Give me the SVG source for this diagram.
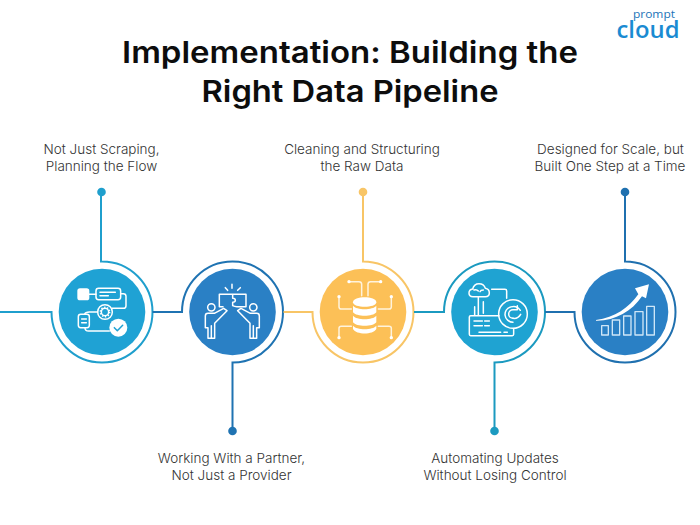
<svg xmlns="http://www.w3.org/2000/svg" width="700" height="525" viewBox="0 0 700 525">
<style>
.title{font-family:"Inter","Liberation Sans",sans-serif;font-weight:600;font-size:30px;fill:#0d0d0d;text-anchor:middle}
.label{font-family:"Inter","Liberation Sans",sans-serif;font-weight:300;font-size:13.500px;fill:#333;text-anchor:middle}
.con{fill:none;stroke-width:2}
.ic{fill:none;stroke:#fff;stroke-width:4.500;stroke-linecap:round;stroke-linejoin:round}
.w{fill:#fff;stroke:none}
.b1{stroke:#1f9fcd}.b2{stroke:#1f73b2}.y{stroke:#f8c566}.b3{stroke:#1b9ac0}.b4{stroke:#1f70af}
</style>
<rect width="700" height="525" fill="#fff"/>
<g id="logo">
<text x="654" y="18" font-family="'Open Sans','Liberation Sans',sans-serif" font-size="10.500" fill="#1b74b8" text-anchor="middle" textLength="42" lengthAdjust="spacingAndGlyphs">prompt</text>
<text x="648" y="38" font-family="'Open Sans','Liberation Sans',sans-serif" font-weight="600" font-size="23" fill="#1a8bd2" text-anchor="middle" textLength="63" lengthAdjust="spacingAndGlyphs">cloud</text>
</g>
<g id="title">
<text class="title" x="350" y="63" textLength="456" lengthAdjust="spacingAndGlyphs">Implementation: Building the</text>
<text class="title" x="350" y="102" textLength="297" lengthAdjust="spacingAndGlyphs">Right Data Pipeline</text>
</g>
<g id="connectors">
<path class="con b1" d="M0 312H51.500A50.500 50.500 0 1 0 102 261.500H101V192"/>
<path class="con b2" d="M152.500 312H182A50.500 50.500 0 1 1 232.500 362.500V431"/>
<path class="con y" d="M283.500 312H312.500A50.500 50.500 0 1 0 363 261.500V192"/>
<path class="con b3" d="M414 312H444A50.500 50.500 0 1 1 494.500 362.500V431"/>
<path class="con b4" d="M545 312H574.500A50.500 50.500 0 1 0 625 261.500V192"/>
<circle cx="101.500" cy="192" r="4.300" fill="#1f9fcd"/>
<circle cx="232.500" cy="431" r="4.300" fill="#1f73b2"/>
<circle cx="363" cy="192" r="4.300" fill="#f8c566"/>
<circle cx="494.500" cy="431" r="4.300" fill="#1b9ac0"/>
<circle cx="625" cy="192" r="4.300" fill="#1f70af"/>
</g>
<g id="node1">
<circle cx="102" cy="312" r="43.300" fill="#1fa2d4"/>
<g transform="translate(50 265) scale(.3333)" class="ic">
<rect class="w" x="82" y="70" width="36" height="36" rx="8"/>
<rect x="138" y="70" width="74" height="34" rx="8"/>
<path d="M150 82H196M150 92H175M118 88H138M212 86H220Q228 86 228 94V122Q228 130 220 130H186"/>
<circle cx="165" cy="141" r="22"/><circle cx="165" cy="141" r="11"/><circle cx="165" cy="141" r="14" stroke-dasharray="4 4.800" stroke-linecap="butt"/>
<rect x="85" y="148" width="33" height="40" rx="7"/>
<path d="M95 162H109M95 173H109M143 141H118Q106 141 104 148M105 188Q105 198 116 198H178"/>
<circle class="w" cx="205" cy="188" r="27"/>
<path d="M193 188L202 197L218 181" stroke="#1fa2d4"/>
</g>
<text class="label" x="101.500" y="154">Not Just Scraping,</text>
<text class="label" x="101.500" y="171">Planning the Flow</text>
</g>
<g id="node2">
<circle cx="232.500" cy="312" r="43.300" fill="#2a80c5"/>
<g transform="translate(182 265) scale(.3333)" class="ic">
<path d="M130 68L137 76M150 58V70M175 68L167 76"/>
<path d="M123 125H112V88H192V125H165Q158 125 152 122V112Q160 112 160 106Q160 100 152 100V88"/>
<circle cx="88" cy="127" r="11"/><circle cx="214" cy="127" r="11"/>
<path d="M125 130L97 145H78Q70 145 70 153V188H78V220H98V175L135 137Z"/>
<path d="M88 182V220"/>
<path d="M177 130L205 145H224Q232 145 232 153V188H224V220H204V175L167 137Z"/>
<path d="M214 182V220"/>
</g>
<text class="label" x="231.500" y="463">Working With a Partner,</text>
<text class="label" x="231.500" y="480">Not Just a Provider</text>
</g>
<g id="node3">
<circle cx="363" cy="312" r="43.300" fill="#fcc057"/>
<g transform="translate(313 265) scale(.3333)" class="ic" style="stroke:#fff3dc">
<path d="M108 50H138Q146 50 146 58V92M203 50H173Q165 50 165 58V92M78 95V125Q78 132 85 132H115M235 95V125Q235 132 228 132H196M78 218V190Q78 184 85 184H115M235 218V190Q235 184 228 184H196"/>
<circle class="w" cx="108" cy="50" r="5"/><circle class="w" cx="203" cy="50" r="5"/><circle class="w" cx="78" cy="95" r="5"/><circle class="w" cx="235" cy="95" r="5"/><circle class="w" cx="78" cy="218" r="5"/><circle class="w" cx="235" cy="218" r="5"/>
<path class="w" d="M120 112C120 92 190 92 190 112C190 130 120 130 120 112Z"/>
<path class="w" d="M120 122C130 136 180 136 190 122V142C180 156 130 156 120 142Z"/>
<path class="w" d="M120 152C130 166 180 166 190 152V172C180 186 130 186 120 172Z"/>
<path class="w" d="M120 182C130 196 180 196 190 182V192C180 210 130 210 120 192Z"/>
</g>
<text class="label" x="362" y="154">Cleaning and Structuring</text>
<text class="label" x="362" y="171">the Raw Data</text>
</g>
<g id="node4">
<circle cx="494.500" cy="312" r="43.300" fill="#1fa3d2"/>
<g transform="translate(444 265) scale(.3333)" class="ic">
<path d="M87 95Q75 95 75 84Q75 74 86 72Q90 56 105 56Q120 56 124 70Q136 72 136 84Q136 95 124 95ZM90 75Q98 72 103 78M118 75Q110 75 108 80"/>
<path d="M103 95V150M118 110V145" />
<path d="M143 73H183Q188 73 188 78V100"/>
<path d="M92 125V152H80Q76 152 76 156V208Q76 212 80 212H205Q209 212 209 208V192M92 152H165"/>
<path d="M90 168H115M122 168H136M90 182H115M122 182H136M105 202H170M180 202H190"/>
<circle cx="207" cy="147" r="43"/>
<path d="M229 136A25 25 0 0 0 183 150A25 25 0 0 0 207 172"/>
<path d="M207 160A13 13 0 0 1 194 147A13 13 0 0 1 207 134M207 134H220M220 134V122"/>
<path d="M207 160Q222 162 230 148"/>
</g>
<text class="label" x="495" y="463">Automating Updates</text>
<text class="label" x="495" y="480">Without Losing Control</text>
</g>
<g id="node5">
<circle cx="625" cy="312" r="43.300" fill="#2a80c5"/>
<g transform="translate(575 265) scale(.3333)" class="ic" style="stroke:#cfe6f7;stroke-width:4">
<rect x="80" y="182" width="20" height="28"/>
<rect x="112" y="165" width="22" height="45"/>
<rect x="146" y="153" width="22" height="57"/>
<rect x="180" y="140" width="24" height="70"/>
<rect x="215" y="124" width="23" height="86"/>
<path class="w" d="M63 165C120 158 162 128 190 88L180 70L222 58L213 100L201 94C170 140 120 168 63 167Z"/>
</g>
<text class="label" x="610.500" y="154">Designed for Scale, but</text>
<text class="label" x="610" y="171">Built One Step at a Time</text>
</g>
</svg>
